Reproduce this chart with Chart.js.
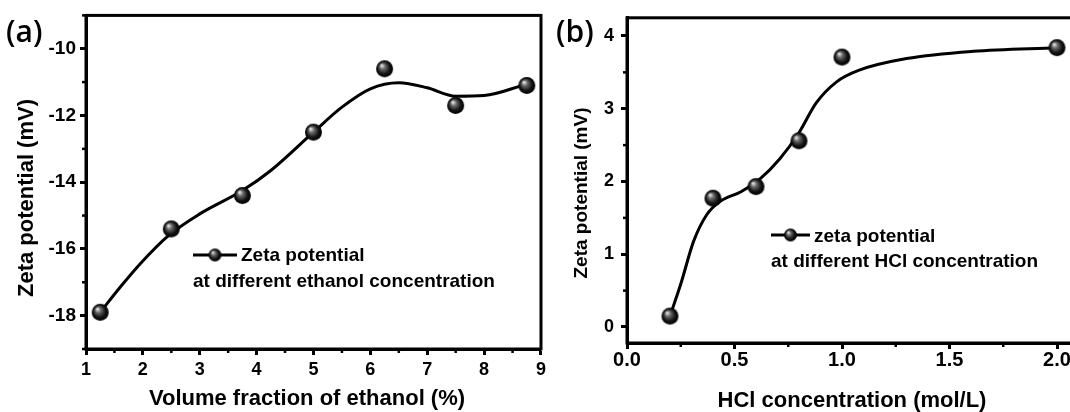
<!DOCTYPE html>
<html lang="en">
<head>
<meta charset="UTF-8">
<title>Zeta potential</title>
<script src="https://cdn.jsdelivr.net/npm/chart.js"></script>
<style>
    html, body {
        margin: 0;
        padding: 0;
        background: #fff;
        overflow: hidden;
        width: 1070px;
        height: 412px;
    }
    #panelA, #panelB {
        position: absolute;
        top: 0;
    }
    #panelA { left: 0; }
    #panelB { left: 550px; }
</style>
</head>
<body>
<canvas id="panelA" width="550" height="412"></canvas>
<canvas id="panelB" width="540" height="412"></canvas>
<script>
// panel (a): ethanol
const ethanolX = [1.25, 2.5, 3.75, 5, 6.25, 7.5, 8.75];
const ethanolZeta = [-17.9, -15.4, -14.4, -12.5, -10.6, -11.7, -11.1];
// fitted curve
const ethanolFitX = [1.25, 1.6, 1.95, 2.45, 3.0, 3.75, 4.25, 5.0, 5.5, 6.0, 6.5, 7.0, 7.5, 8.0, 8.75];
const ethanolFitY = [-17.9, -17.15, -16.45, -15.6, -14.95, -14.25, -13.65, -12.5, -11.75, -11.2, -11.02, -11.17, -11.42, -11.4, -11.06];

// panel (b): HCl
const hclX = [0.2, 0.4, 0.6, 0.8, 1.0, 2.0];
const hclZeta = [0.15, 1.77, 1.93, 2.56, 3.71, 3.84];
const hclFitX = [0.2, 0.25, 0.31, 0.37, 0.43, 0.53, 0.62, 0.71, 0.8, 0.88, 0.975, 1.08, 1.3, 1.61, 2.0];
const hclFitY = [0.15, 0.59, 1.18, 1.54, 1.72, 1.86, 2.04, 2.31, 2.67, 3.08, 3.37, 3.53, 3.69, 3.79, 3.84];

const FONT = '"Liberation Sans", Arial, sans-serif';

// black sphere marker
function ball(r) {
    const c = document.createElement('canvas');
    c.width = c.height = 2 * r + 2;
    const g = c.getContext('2d');
    const m = r + 1;
    const grad = g.createRadialGradient(m - r * 0.35, m - r * 0.4, r * 0.05, m, m, r);
    grad.addColorStop(0, '#e8e8e8');
    grad.addColorStop(0.3, '#6a6a6a');
    grad.addColorStop(0.7, '#141414');
    grad.addColorStop(1, '#000');
    g.fillStyle = grad;
    g.beginPath();
    g.arc(m, m, r, 0, Math.PI * 2);
    g.fill();
    return c;
}
const bigBall = ball(8.5);
const smallBall = ball(6.5);

function pts(xs, ys) {
    return xs.map((x, i) => ({ x: x, y: ys[i] }));
}

// frame, minor ticks, titles, legend, panel label
const decor = {
    id: 'decor',
    afterDraw(chart, args, o) {
        const ctx = chart.ctx;
        const a = chart.chartArea;
        ctx.save();
        ctx.strokeStyle = '#000';
        ctx.lineWidth = 3;
        ctx.strokeRect(a.left, a.top, a.right - a.left, a.bottom - a.top);

        ctx.lineWidth = 2.5;
        ['x', 'y'].forEach(id => {
            const s = chart.scales[id];
            s.ticks.forEach(t => {
                if (t.label !== '') return;
                const p = s.getPixelForValue(t.value);
                ctx.beginPath();
                if (id === 'x') {
                    ctx.moveTo(p, a.bottom);
                    ctx.lineTo(p, a.bottom + 4);
                } else {
                    ctx.moveTo(a.left, p);
                    ctx.lineTo(a.left - 4, p);
                }
                ctx.stroke();
            });
        });

        ctx.fillStyle = '#000';
        // panel label
        ctx.font = '600 30px "Open Sans", sans-serif';
        ctx.textAlign = 'left';
        ctx.textBaseline = 'middle';
        ctx.fillText(o.label, 6, 33);

        // axis titles
        ctx.font = 'bold ' + o.titleSize + 'px ' + FONT;
        ctx.textAlign = 'center';
        ctx.textBaseline = 'alphabetic';
        ctx.fillText(o.xTitle, o.xTitleX, o.xTitleY);
        ctx.save();
        ctx.translate(o.yTitleX, o.yTitleY);
        ctx.rotate(-Math.PI / 2);
        ctx.font = 'bold ' + o.yTitleSize + 'px ' + FONT;
        ctx.textBaseline = 'middle';
        ctx.fillText(o.yTitle, 0, 0);
        ctx.restore();

        // legend
        const L = o.legend;
        ctx.lineWidth = 3;
        ctx.beginPath();
        ctx.moveTo(L.x, L.symY);
        ctx.lineTo(L.x + L.symW, L.symY);
        ctx.stroke();
        ctx.drawImage(smallBall, L.x + L.symW / 2 - smallBall.width / 2, L.symY - smallBall.height / 2);
        ctx.font = 'bold 19px ' + FONT;
        ctx.textAlign = 'left';
        ctx.fillText(L.line1, L.x + L.symW + 4, L.y1);
        ctx.fillText(L.line2, L.x, L.y2);
        ctx.restore();
    }
};

function makeChart(el, cfg) {
    const tickFont = { family: FONT, size: cfg.tickSize, weight: 'bold' };
    return new Chart(document.getElementById(el), {
        type: 'scatter',
        data: {
            datasets: [
                {
                    data: pts(cfg.px, cfg.py),
                    showLine: false,
                    pointStyle: bigBall,
                    order: 0
                },
                {
                    data: pts(cfg.fx, cfg.fy),
                    showLine: true,
                    borderColor: '#000',
                    borderWidth: 3,
                    pointRadius: 0,
                    cubicInterpolationMode: 'monotone',
                    order: 1
                }
            ]
        },
        options: {
            responsive: false,
            animation: false,
            layout: { padding: { top: 14, right: cfg.padRight, left: 0, bottom: 0 } },
            plugins: {
                legend: { display: false },
                tooltip: { enabled: false },
                decor: cfg.decor
            },
            scales: {
                x: {
                    type: 'linear',
                    min: cfg.xMin, max: cfg.xMax,
                    afterFit: s => { s.height = cfg.xHeight; },
                    border: { color: '#000', width: 3 },
                    grid: {
                        drawOnChartArea: false,
                        tickLength: 6,
                        tickWidth: 3,
                        tickColor: c => (c.tick && cfg.xMajor(c.tick.value)) ? '#000' : 'rgba(0,0,0,0)'
                    },
                    ticks: {
                        stepSize: cfg.xStep,
                        includeBounds: false,
                        autoSkip: false,
                        maxRotation: 0,
                        padding: cfg.xPad,
                        color: '#000',
                        font: { family: FONT, size: cfg.xTickSize, weight: 'bold' },
                        callback: v => cfg.xMajor(v) ? cfg.xFmt(v) : ''
                    }
                },
                y: {
                    type: 'linear',
                    min: cfg.yMin, max: cfg.yMax,
                    afterFit: s => { s.width = cfg.yWidth; },
                    border: { color: '#000', width: 3 },
                    grid: {
                        drawOnChartArea: false,
                        tickLength: 6,
                        tickWidth: 3,
                        tickColor: c => (c.tick && cfg.yMajor(c.tick.value)) ? '#000' : 'rgba(0,0,0,0)'
                    },
                    ticks: {
                        stepSize: cfg.yStep,
                        includeBounds: false,
                        autoSkip: false,
                        padding: cfg.yPad,
                        color: '#000',
                        font: tickFont,
                        callback: v => cfg.yMajor(v) ? String(v) : ''
                    }
                }
            }
        },
        plugins: [decor]
    });
}

const near = (v, step) => Math.abs(v / step - Math.round(v / step)) < 1e-6;

makeChart('panelA', {
    px: ethanolX, py: ethanolZeta, fx: ethanolFitX, fy: ethanolFitY,
    xMin: 1, xMax: 9, xStep: 0.5, xMajor: v => near(v, 1), xFmt: v => String(v),
    yMin: -19, yMax: -9, yStep: 1, yMajor: v => near(v, 2),
    tickSize: 19, xTickSize: 18, xPad: 4, yPad: 4,
    xHeight: 63, yWidth: 86, padRight: 6,
    decor: {
        label: '(a)',
        titleSize: 22, yTitleSize: 22,
        xTitle: 'Volume fraction of ethanol (%)', xTitleX: 307, xTitleY: 405,
        yTitle: 'Zeta potential (mV)', yTitleX: 27, yTitleY: 198,
        legend: { x: 193, symW: 44, symY: 255, y1: 261, y2: 287,
                  line1: 'Zeta potential', line2: 'at different ethanol concentration' }
    }
});

makeChart('panelB', {
    px: hclX, py: hclZeta, fx: hclFitX, fy: hclFitY,
    xMin: 0, xMax: 2.1, xStep: 0.25, xMajor: v => near(v, 0.5), xFmt: v => v.toFixed(1),
    yMin: -0.22, yMax: 4.25, yStep: 0.5, yMajor: v => near(v, 1),
    tickSize: 18, xTickSize: 20, xPad: -1, yPad: 7,
    xHeight: 69, yWidth: 77, padRight: 11.5,
    decor: {
        label: '(b)',
        titleSize: 22, yTitleSize: 19,
        xTitle: 'HCl concentration (mol/L)', xTitleX: 302, xTitleY: 407,
        yTitle: 'Zeta potential (mV)', yTitleX: 32, yTitleY: 193,
        legend: { x: 221, symW: 39, symY: 235, y1: 242, y2: 267,
                  line1: 'zeta potential', line2: 'at different HCl concentration' }
    }
});
</script>
</body>
</html>
